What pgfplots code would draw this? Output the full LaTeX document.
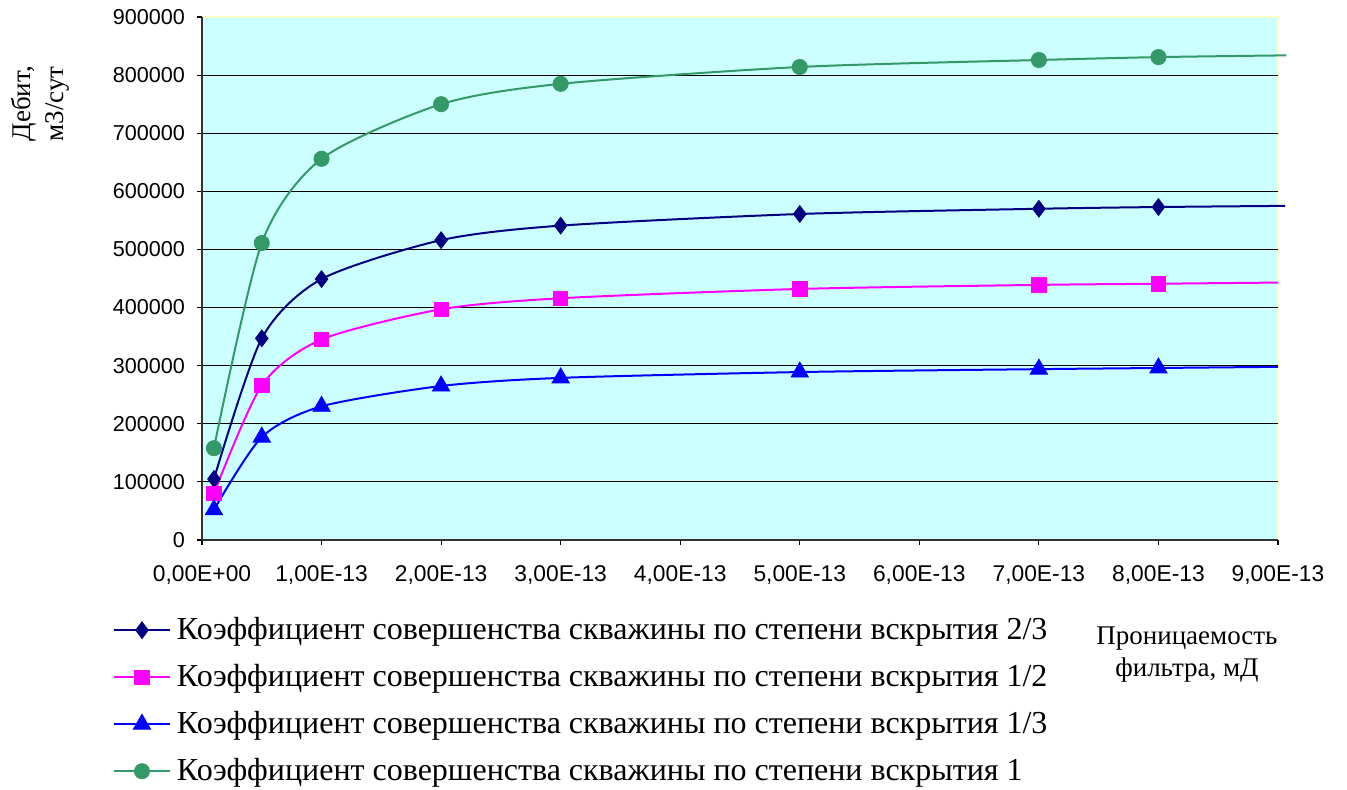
\documentclass[border=0pt]{standalone}
\usepackage{fontspec}
\setmainfont{Liberation Serif}
\newfontfamily\arial{Liberation Sans}
\usepackage{pgfplots}
\pgfplotsset{compat=1.18}

\definecolor{plotbg}{HTML}{CCFFFF}
\definecolor{edgey}{HTML}{FFFFCC}
\definecolor{navyc}{HTML}{000080}
\definecolor{magc}{HTML}{FF00FF}
\definecolor{bluec}{HTML}{0000FF}
\definecolor{greenc}{HTML}{339966}

\begin{document}
\begin{tikzpicture}
\begin{axis}[
  scale only axis,
  width=538pt, height=261.5pt,
  xmin=0, xmax=9e-13,
  ymin=0, ymax=900000,
  axis background/.style={fill=plotbg, draw=edgey, line width=1pt},
  axis x line*=bottom, axis y line*=left,
  axis line style={-, black!80, line width=0.6pt},
  tick align=outside,
  major tick length=2.5pt,
  tick style={black, line width=0.6pt},
  scaled x ticks=false, scaled y ticks=false,
  xtick={0,1e-13,2e-13,3e-13,4e-13,5e-13,6e-13,7e-13,8e-13,9e-13},
  xticklabels={{0,00E+00},{1,00E-13},{2,00E-13},{3,00E-13},{4,00E-13},{5,00E-13},{6,00E-13},{7,00E-13},{8,00E-13},{9,00E-13}},
  ytick={0,100000,200000,300000,400000,500000,600000,700000,800000},
  extra y ticks={900000},
  extra y tick style={grid=none},
  ymajorgrids,
  major grid style={black, line width=0.5pt},
  yticklabel style={font=\arial\fontsize{10.8}{12}\selectfont, xshift=-2.5pt},
  xticklabel style={font=\arial\fontsize{11.4}{13}\selectfont, yshift=-7pt},
  /pgf/number format/assume math mode=true,
  /pgf/number format/.cd, fixed, 1000 sep={},
  /pgfplots/.cd,
  clip=false,
  xlabel={Проницаемость\\фильтра, мД},
  xlabel style={font=\fontsize{13.5}{16}\selectfont, align=center,
    at={(axis description cs:0.9154,-0.152)}, anchor=north},
  ylabel={Дебит,\\м3/сут},
  ylabel style={font=\fontsize{13.5}{16.5}\selectfont, align=center,
    at={(axis description cs:-0.1505,0.8337)}, anchor=center, rotate=0},
  legend style={at={(axis description cs:-0.0831,-0.140)}, anchor=north west,
    draw=none, fill=none, inner sep=0pt,
    font=\fontsize{16}{19}\selectfont,
    row sep=6.9pt},
  legend cell align=left,
  legend image code/.code={\draw[#1, mark indices={2}] plot coordinates {(0pt,0pt) (14pt,0pt) (28pt,0pt)};
    \path (29pt,0pt);},
  every axis plot/.append style={line width=1pt, smooth, tension=0.45, mark indices={1,2,3,4,5,6,7,8}},
]
\addplot[color=navyc, mark=diamond*, mark size=4.2pt, mark options={solid, fill=navyc, line width=0.4pt}]
  coordinates {(1e-14,105000) (5e-14,347000) (1e-13,449000) (2e-13,516000) (3e-13,541000) (5e-13,561000) (7e-13,570000) (8e-13,573000) (9.06e-13,575000)};
\addlegendentry{Коэффициент совершенства скважины по степени вскрытия 2/3}
\addplot[color=magc, mark=square*, mark size=3.6pt, mark options={solid, fill=magc, line width=0.4pt}]
  coordinates {(1e-14,80000) (5e-14,266000) (1e-13,345000) (2e-13,397000) (3e-13,416000) (5e-13,432000) (7e-13,439000) (8e-13,441000) (9e-13,443000)};
\addlegendentry{Коэффициент совершенства скважины по степени вскрытия 1/2}
\addplot[color=bluec, mark=triangle*, mark size=5pt, mark options={solid, fill=bluec, line width=0.4pt}]
  coordinates {(1e-14,52000) (5e-14,177000) (1e-13,230000) (2e-13,265000) (3e-13,279000) (5e-13,289000) (7e-13,294000) (8e-13,296000) (9e-13,298000)};
\addlegendentry{Коэффициент совершенства скважины по степени вскрытия 1/3}
\addplot[color=greenc, mark=*, mark size=3.8pt, mark options={solid, fill=greenc, line width=0.4pt}]
  coordinates {(1e-14,158000) (5e-14,511000) (1e-13,656000) (2e-13,750000) (3e-13,785000) (5e-13,814000) (7e-13,826000) (8e-13,831000) (9.07e-13,834000)};
\addlegendentry{Коэффициент совершенства скважины по степени вскрытия 1}

\coordinate (bbl) at (axis description cs:-0.18773,-0.47801);
\coordinate (btr) at (axis description cs:1.06413,1.03250);
\end{axis}
\pgfresetboundingbox
\path (bbl) rectangle (btr);
\end{tikzpicture}
\end{document}
